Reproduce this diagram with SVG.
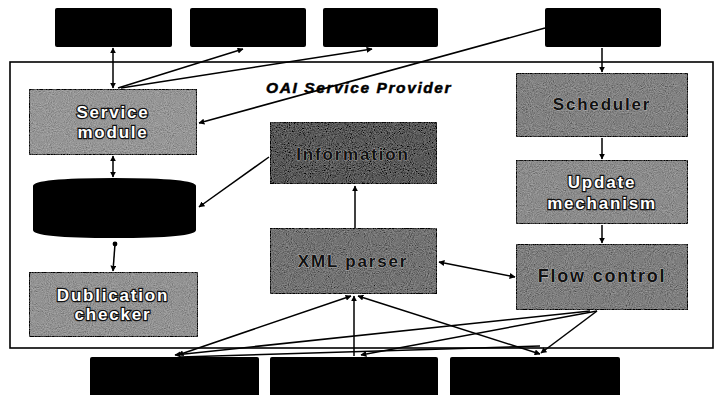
<svg xmlns="http://www.w3.org/2000/svg" width="715" height="395" viewBox="0 0 715 395">
<style>
.blk{fill:#000;}
.gbox{stroke:#1a1a1a;stroke-width:2;filter:url(#grain);}
.lbl{font-family:"Liberation Sans",Arial,sans-serif;font-weight:bold;font-size:17px;letter-spacing:1.8px;text-anchor:middle;fill:#fff;stroke:#111;stroke-width:2.4px;paint-order:stroke;}
.dk{fill:#111;stroke:#ddd;stroke-width:0.6px;}
.ttl{font-family:"Liberation Sans",Arial,sans-serif;font-weight:bold;font-style:italic;font-size:15.5px;letter-spacing:1.6px;fill:#000;stroke:#000;stroke-width:0.5px;}
.cn{fill:none;stroke:#000;stroke-width:1.5;}
</style>
<defs>
<filter id="grain" x="0" y="0" width="100%" height="100%">
<feTurbulence type="fractalNoise" baseFrequency="0.95" numOctaves="2" seed="4" result="n"/>
<feColorMatrix in="n" type="matrix" values="0.33 0.33 0.33 0 0 0.33 0.33 0.33 0 0 0.33 0.33 0.33 0 0 0 0 0 0 1" result="g"/>
<feComposite in="SourceGraphic" in2="g" operator="arithmetic" k1="0" k2="0.75" k3="0.6" k4="-0.28" result="m"/>
<feComposite in="m" in2="SourceGraphic" operator="in"/>
</filter>
<marker id="ar" viewBox="0 0 10 10" refX="9" refY="5" markerWidth="6" markerHeight="6" orient="auto-start-reverse" markerUnits="userSpaceOnUse">
<path d="M0,0 L10,5 L0,10 z" fill="#000"/>
</marker>
<marker id="dot" viewBox="0 0 10 10" refX="5" refY="5" markerWidth="6" markerHeight="6" markerUnits="userSpaceOnUse">
<circle cx="5" cy="5" r="4" fill="#000"/>
</marker>
</defs>
<rect width="715" height="395" fill="#fff"/>
<rect x="10" y="62" width="703" height="286" fill="none" stroke="#000" stroke-width="1.6"/>
<text class="ttl" x="266" y="93">OAI Service Provider</text>

<g id="ext-top-1"><rect class="blk" x="55" y="8" width="117" height="39" rx="2"/></g>
<g id="ext-top-2"><rect class="blk" x="190" y="8" width="116" height="39" rx="2"/></g>
<g id="ext-top-3"><rect class="blk" x="323" y="8" width="115" height="39" rx="2"/></g>
<g id="ext-top-4"><rect class="blk" x="545" y="8" width="116" height="39" rx="2"/></g>
<g id="ext-bot-1"><rect class="blk" x="90" y="357" width="169" height="40" rx="2"/></g>
<g id="ext-bot-2"><rect class="blk" x="270" y="357" width="168" height="40" rx="2"/></g>
<g id="ext-bot-3"><rect class="blk" x="450" y="357" width="170" height="40" rx="2"/></g>

<g id="service-module"><rect class="gbox" x="29" y="89" width="168" height="66" rx="2" fill="#a6a6a6"/>
<text class="lbl" x="113" y="118">Service</text><text class="lbl" x="113" y="138">module</text></g>
<g id="database"><path class="blk" d="M33,186 Q33,178 114,178 Q196,178 196,186 L196,230 Q196,238 114,238 Q33,238 33,230 Z"/></g>
<g id="dublication-checker"><rect class="gbox" x="29" y="272" width="169" height="65" rx="2" fill="#a2a2a2"/>
<text class="lbl" x="113" y="301">Dublication</text><text class="lbl" x="113" y="320">checker</text></g>
<g id="information"><rect class="gbox" x="270" y="122" width="167" height="62" rx="2" fill="#5c5c5c"/>
<text class="lbl dk" x="353" y="160">Information</text></g>
<g id="xml-parser"><rect class="gbox" x="270" y="228" width="167" height="66" rx="2" fill="#7c7c7c"/>
<text class="lbl dk" x="353" y="267">XML parser</text></g>
<g id="scheduler"><rect class="gbox" x="516" y="73" width="172" height="64" rx="2" fill="#8e8e8e"/>
<text class="lbl dk" x="602" y="110">Scheduler</text></g>
<g id="update-mechanism"><rect class="gbox" x="516" y="160" width="172" height="64" rx="2" fill="#9a9a9a"/>
<text class="lbl" x="602" y="188">Update</text><text class="lbl" x="602" y="209">mechanism</text></g>
<g id="flow-control"><rect class="gbox" x="516" y="244" width="172" height="66" rx="2" fill="#8a8a8a"/>
<text class="lbl dk" x="602" y="282" style="font-size:18px">Flow control</text></g>

<g id="connectors">
<path class="cn" d="M113,48 L113,88" marker-start="url(#ar)" marker-end="url(#ar)"/>
<path class="cn" d="M118,88 L243,49" marker-end="url(#ar)"/>
<path class="cn" d="M121,88 L372,49" marker-end="url(#ar)"/>
<path class="cn" d="M545,28 L199,123" marker-end="url(#ar)"/>
<path class="cn" d="M113,156 L113,177" marker-start="url(#ar)" marker-end="url(#ar)"/>
<path class="cn" d="M115,244 L113,271" marker-start="url(#dot)" marker-end="url(#ar)"/>
<path class="cn" d="M269,157 L199,207" marker-end="url(#ar)"/>
<path class="cn" d="M355,228 L355,186" marker-end="url(#ar)"/>
<path class="cn" d="M439,262 L515,277" marker-start="url(#ar)" marker-end="url(#ar)"/>
<path class="cn" d="M602,48 L602,72" marker-end="url(#ar)"/>
<path class="cn" d="M602,138 L602,159" marker-end="url(#ar)"/>
<path class="cn" d="M602,225 L602,243" marker-end="url(#ar)"/>
<path class="cn" d="M351,296 L178,355" marker-start="url(#ar)" marker-end="url(#ar)"/>
<path class="cn" d="M354,296 L354,356" marker-start="url(#ar)"/>
<path class="cn" d="M358,296 L540,354" marker-start="url(#ar)" marker-end="url(#ar)"/>
<path class="cn" d="M597,311 L541,353" marker-end="url(#ar)"/>
<path class="cn" d="M597,311 L361,355" marker-end="url(#ar)"/>
<path class="cn" d="M590,311 L175,355" marker-end="url(#ar)"/>
<path class="cn" d="M540,346 L180,357"/>
</g>
</svg>
